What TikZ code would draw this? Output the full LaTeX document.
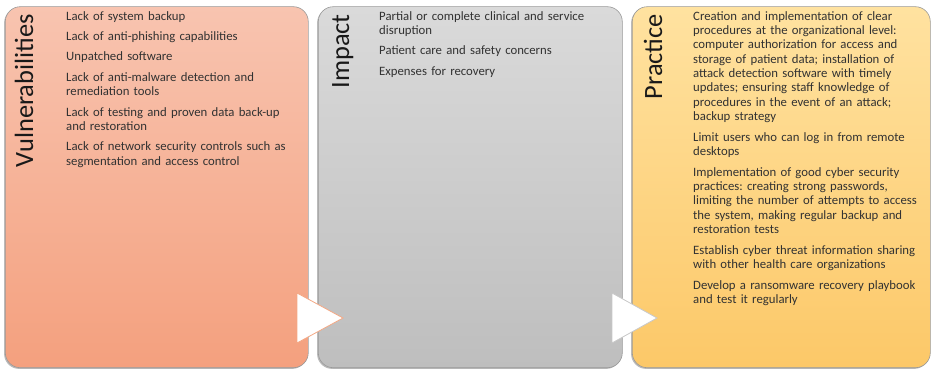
\documentclass[tikz,border=0pt]{standalone}
\usepackage{fontspec}
\setmainfont{Carlito}
\usetikzlibrary{shadows}
\frenchspacing
\definecolor{vulTop}{RGB}{248,196,176}
\definecolor{vulBot}{RGB}{244,160,126}
\definecolor{impTop}{RGB}{218,218,218}
\definecolor{impBot}{RGB}{190,190,190}
\definecolor{praTop}{RGB}{255,226,160}
\definecolor{praBot}{RGB}{252,200,104}
\definecolor{bodytext}{RGB}{50,50,50}
\definecolor{arrowEdgeA}{RGB}{244,168,132}
\definecolor{arrowEdgeB}{RGB}{200,200,200}
\begin{document}
\begin{tikzpicture}[x=1bp,y=1bp,
  panel/.style={rectangle, rounded corners=15bp, draw=black!40, line width=0.6bp,
    inner sep=0pt, anchor=south west, minimum height=361bp,
    drop shadow={shadow xshift=-1.2bp, shadow yshift=-1.2bp, fill=black!45, opacity=0.6}},
  heading/.style={inner sep=0pt, anchor=base east, rotate=90,
    font=\fontsize{26.5}{30}\selectfont, text=black!90},
  body/.style={inner sep=0pt, anchor=base west, align=left, text width=236bp,
    font=\fontsize{12.8}{14.4}\selectfont\frenchspacing, text=bodytext},
  chevron/.style={fill=white, line width=0.8bp, line join=miter}]
\useasboundingbox (0,0) rectangle (932,370);

% three panels
\node[panel, minimum width=303bp, top color=vulTop, bottom color=vulBot] (vul) at (5,2) {};
\node[panel, minimum width=304bp, top color=impTop, bottom color=impBot] (imp) at (318,2) {};
\node[panel, minimum width=298bp, top color=praTop, bottom color=praBot] (pra) at (632,2) {};

% rotated headings
\node[heading] (vulh) at (33,356) {Vulnerabilities};
\node[heading] (imph) at (349,356) {Impact};
\node[heading] (prah) at (662,356) {Practice};

% list texts
\node[body] (vult) at (66,350) {%
Lack of system backup\\[6.1bp]
Lack of anti-phishing capabilities\\[6.1bp]
Unpatched software\\[6.1bp]
Lack of anti-malware detection and\\
remediation tools\\[6.1bp]
Lack of testing and proven data back-up\\
and restoration\\[6.1bp]
Lack of network security controls such as\\
segmentation and access control};

\node[body] (impt) at (379,350) {%
Partial or complete clinical and service\\
disruption\\[6.1bp]
Patient care and safety concerns\\[6.1bp]
Expenses for recovery};

\node[body] (prat) at (693,350) {%
Creation and implementation of clear\\
procedures at the organizational level:\\
computer authorization for access and\\
storage of patient data; installation of\\
attack detection software with timely\\
updates; ensuring staff knowledge of\\
procedures in the event of an attack;\\
backup strategy\\[6.4bp]
Limit users who can log in from remote\\
desktops\\[6.4bp]
Implementation of good cyber security\\
practices: creating strong passwords,\\
limiting the number of attempts to access\\
the system, making regular backup and\\
restoration tests\\[6.4bp]
Establish cyber threat information sharing\\
with other health care organizations\\[6.4bp]
Develop a ransomware recovery playbook\\
and test it regularly};

% chevrons between panels
\coordinate (a1) at (297,77);
\coordinate (a2) at (297,27);
\coordinate (a3) at (343,52);
\coordinate (b1) at (612,77);
\coordinate (b2) at (612,27);
\coordinate (b3) at (657,52);
\draw[chevron, draw=arrowEdgeA] (a1) -- (a3) -- (a2) -- cycle;
\draw[chevron, draw=arrowEdgeB] (b1) -- (b3) -- (b2) -- cycle;
\end{tikzpicture}
\end{document}
